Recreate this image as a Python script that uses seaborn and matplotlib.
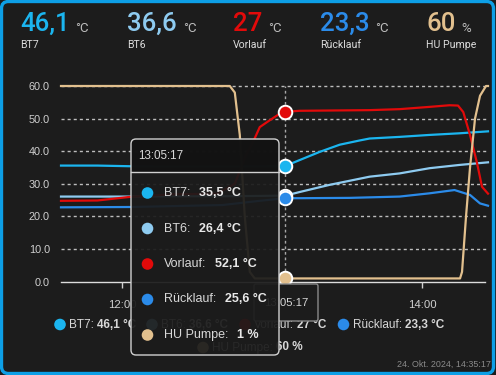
import matplotlib
matplotlib.use("Agg")
import numpy as np
import pandas as pd
import seaborn as sns
import matplotlib.pyplot as plt
from matplotlib.patches import FancyBboxPatch, Circle

# ---------------- data ----------------
names = ["BT7", "BT6", "Vorlauf", "Rücklauf", "HU Pumpe"]
units = ["°C", "°C", "°C", "°C", "%"]
colors = ["#1bb5ef", "#8ecbf0", "#e20a0a", "#2b8be9", "#e2c08e"]
header_values = ["46,1", "36,6", "27", "23,3", "60"]
legend_values = ["46,1 °C", "36,6 °C", "27 °C", "23,3 °C", "60 %"]
tooltip_time = "13:05:17"
tooltip_values = ["35,5 °C", "26,4 °C", "52,1 °C", "25,6 °C", "1 %"]
cross_t = 65.3                      # minutes after 12:00
cross_v = [35.5, 26.4, 52.1, 25.6, 1.0]
footer = "24. Okt. 2024, 14:35:17"

# minutes after 12:00
bt7_t = [-24.6, -10, 3, 20, 40, 55, 65.3, 71, 79, 87, 95, 99, 111, 123, 135, 146.4]
bt7_v = [35.6, 35.6, 35.4, 35.3, 35.3, 35.4, 35.5, 37.3, 39.8, 42.0, 43.3, 43.9, 44.4, 45.0, 45.5, 46.1]
bt6_t = [-24.6, -10, 3, 20, 40, 55, 65.3, 71, 83, 99, 111, 123, 135, 146.4]
bt6_v = [26.1, 26.1, 26.1, 26.2, 26.2, 26.3, 26.4, 27.5, 29.7, 32.2, 33.2, 34.8, 35.8, 36.6]
vl_t = [-24.6, -10, 3, 20, 38, 45, 49, 53, 55, 59, 63, 65.3, 71, 99, 111, 123, 131, 134.4, 136.5, 139.2, 142, 144, 146.4]
vl_v = [24.8, 24.9, 26.0, 26.8, 27.0, 30.0, 38.0, 44.0, 47.4, 49.5, 51.5, 52.1, 52.4, 52.6, 52.9, 53.6, 54.1, 54.0, 52.0, 45.0, 36.4, 29.1, 27.0]
rl_t = [-24.6, 3, 40, 55, 65.3, 71, 91, 111, 123, 133, 139.2, 143.2, 146.4]
rl_v = [22.8, 22.9, 23.5, 24.8, 25.6, 25.6, 25.7, 26.1, 27.1, 28.1, 26.6, 24.0, 23.3]
hu_t = [-24.6, 43, 45, 47, 49, 51, 53, 65.3, 135.2, 136, 137.6, 139.2, 141.2, 143.2, 145.6, 146.4]
hu_v = [60, 60, 58, 45, 20, 3, 1, 1, 1, 3, 20, 35, 50, 57, 60, 60]

yticks = [0, 10, 20, 30, 40, 50, 60]
xtick_pos = [0, 120]
xtick_labels = ["12:00", "14:00"]

series_t = [bt7_t, bt6_t, vl_t, rl_t, hu_t]
series_v = [bt7_v, bt6_v, vl_v, rl_v, hu_v]
df = pd.concat([pd.DataFrame({"t": t, "v": v, "series": n})
                for n, t, v in zip(names, series_t, series_v)], ignore_index=True)

# ---------------- figure ----------------
W, H = 496, 375
BG = "#1c1c1c"
TXT = "#d8d8d8"
CF = "Liberation Sans"
HF = "Roboto"

fig = plt.figure(figsize=(W / 100, H / 100), dpi=100, facecolor=BG)

L, R, T, B = 61, 488, 86, 281.7
ax = fig.add_axes([L / W, 1 - B / H, (R - L) / W, (B - T) / H], zorder=1)
ax.set_facecolor("none")

for v in yticks[1:]:
    ax.axhline(v, xmax=(486 - L) / (R - L), color="#bdbdbd", lw=1,
               ls=(0, (2.2, 2.2)), zorder=0.5)
ax.axhline(0, xmax=(485 - L) / (R - L), color="#dcdcdc", lw=1, zorder=0.6)
ax.axvline(cross_t, color="#a8a8a8", lw=1, ls=(0, (2, 2)), zorder=0.7)

sns.lineplot(data=df, x="t", y="v", hue="series", hue_order=names,
             palette=dict(zip(names, colors)), sort=False, estimator=None,
             legend=False, ax=ax, linewidth=1.6, zorder=2)
for line in ax.get_lines():
    line.set_clip_on(False)

for c, v in zip(colors, cross_v):
    ax.scatter([cross_t], [v], s=95, color=c, edgecolor="white",
               linewidth=1.4, zorder=6, clip_on=False)

ax.set_xlim(-24.6, 146.4)
ax.set_ylim(0, 60)
for s in ax.spines.values():
    s.set_visible(False)
ax.set_yticks(yticks)
ax.set_yticklabels([f"{v:.1f}" for v in yticks], fontfamily=CF, fontsize=7.8, color="#d0d0d0")
ax.set_xticks(xtick_pos)
ax.set_xticklabels(xtick_labels, fontfamily=CF, fontsize=8.2, color="#d0d0d0")
ax.tick_params(axis="y", length=0, pad=8)
ax.tick_params(axis="x", length=4, width=1, color="#cfcfcf", pad=9)
ax.set_xlabel("")
ax.set_ylabel("")

# ---------------- overlay (pixel coordinates) ----------------
ov = fig.add_axes([0, 0, 1, 1], zorder=5)
ov.set_xlim(0, W)
ov.set_ylim(H, 0)
ov.axis("off")
ov.patch.set_visible(False)

# card border
ov.add_patch(FancyBboxPatch((1.5, 1.5), W - 4, H - 3,
                            boxstyle="round,pad=0,rounding_size=7",
                            fc="none", ec="#0d9fe6", lw=2.4, zorder=1))

# header
hx = [20, 127, 233, 320, 426]
for x, n, val, u, c in zip(hx, names, header_values, units, colors):
    t = ov.text(x, 31, val, fontfamily=HF, fontsize=18.5, fontweight="medium",
                color=c, va="baseline", ha="left", zorder=2)
    ov.annotate(u, xy=(1, 0), xycoords=t, xytext=(4.3, 1.0),
                textcoords="offset points", fontfamily=HF, fontsize=9.5,
                color="#bdbdbd", va="bottom", ha="left", zorder=2)
    ov.text(x, 45, n, fontfamily=HF, fontsize=7.6, color="#dcdcdc",
            va="center", ha="left", zorder=2)

# legend
leg_pos = [(60, 324.5), (152, 324.5), (245, 324.5), (343.5, 324.5), (203, 347.5)]
for (x, y), n, val, c in zip(leg_pos, names, legend_values, colors):
    ov.add_patch(Circle((x, y), 5.8, fc=c, ec="none", zorder=2))
    t = ov.text(x + 9, y, n + ":", fontfamily=CF, fontsize=8.5, color=TXT,
                va="center", ha="left", zorder=2)
    ov.annotate(val, xy=(1, 0.5), xycoords=t, xytext=(2.4, 0),
                textcoords="offset points", fontfamily=CF, fontsize=8.5,
                fontweight="bold", color=TXT, va="center", ha="left", zorder=2)

# crosshair x label
ov.add_patch(FancyBboxPatch((254, 284), 64, 37, boxstyle="round,pad=0,rounding_size=2",
                            fc=BG, ec="#8a8a8a", lw=1, zorder=3))
ov.text(286, 303, tooltip_time, fontfamily=CF, fontsize=8.2, color=TXT,
        ha="center", va="center", zorder=3.5)

# tooltip
tx, ty, tw, th = 131, 139, 148, 216
ov.add_patch(FancyBboxPatch((tx, ty), tw, th, boxstyle="round,pad=0,rounding_size=5",
                            fc="#1b1b1b", ec="none", alpha=0.93, zorder=10))
ov.add_patch(FancyBboxPatch((tx + 0.5, ty + 0.5), tw - 1, 33, boxstyle="round,pad=0,rounding_size=4.5",
                            fc="#121212", ec="none", alpha=0.9, zorder=10.5))
ov.add_patch(FancyBboxPatch((tx, ty), tw, th, boxstyle="round,pad=0,rounding_size=5",
                            fc="none", ec="#d0d0d0", lw=1, zorder=11))
ov.plot([tx, tx + tw], [172, 172], color="#d0d0d0", lw=1, zorder=11)
ov.text(138.5, 156, tooltip_time, fontfamily=CF, fontsize=8.4, color=TXT,
        ha="left", va="center", zorder=12)
row_y = [193, 228.5, 264, 299.5, 335]
for y, n, val, c in zip(row_y, names, tooltip_values, colors):
    ov.add_patch(Circle((147.5, y), 5.8, fc=c, ec="none", zorder=12))
    t = ov.text(164, y, n + ":", fontfamily=CF, fontsize=9.0, color=TXT,
                ha="left", va="center", zorder=12)
    ov.annotate(val, xy=(1, 0.5), xycoords=t, xytext=(6.3, 0),
                textcoords="offset points", fontfamily=CF, fontsize=9.0,
                fontweight="bold", color="#e8e8e8", ha="left", va="center", zorder=12)

# footer
ov.text(491, 364.5, footer, fontfamily=CF, fontsize=6.4, color="#8a8a8a",
        ha="right", va="center", zorder=2)

fig.savefig("out.png", dpi=100, facecolor=BG)
